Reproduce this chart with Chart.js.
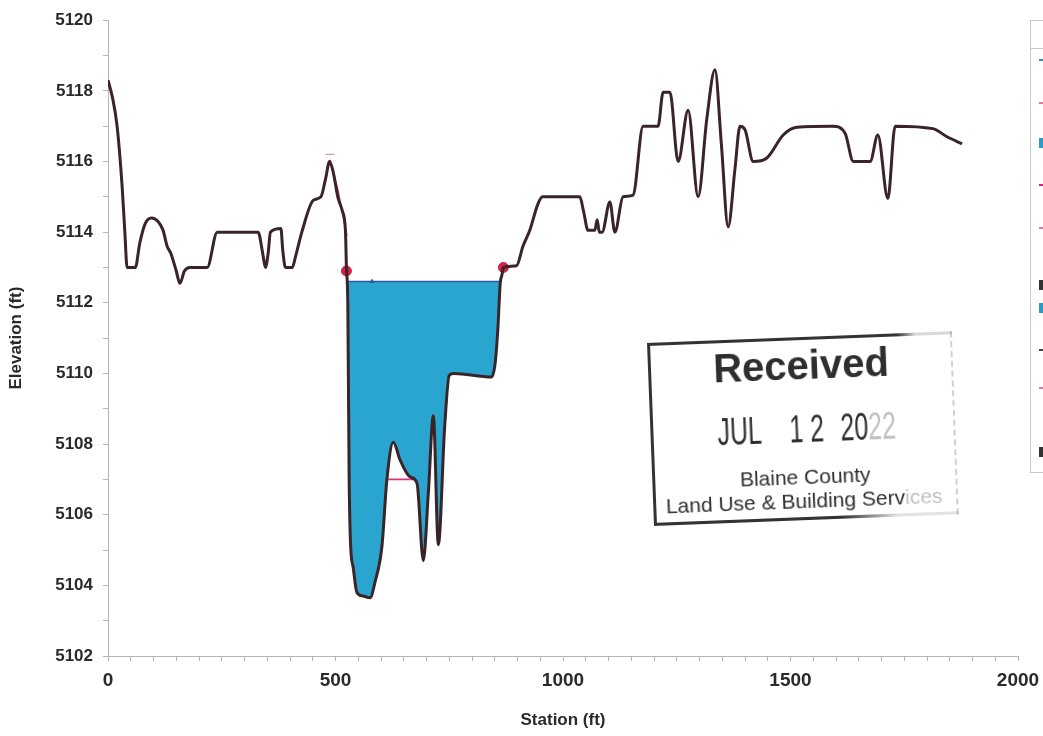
<!DOCTYPE html>
<html lang="en">
<head>
    <meta charset="UTF-8">
    <title>Cross Section</title>
    <style>
        body {
            margin: 0;
            padding: 0;
            background: #fff;
        }
        #wrap {
            position: relative;
            width: 1043px;
            height: 736px;
            overflow: hidden;
        }
        .stamp {
            position: absolute;
            left: 647px;
            top: 343px;
            width: 300px;
            height: 183px;
            border-left: 3px solid #333;
            border-right: 2px dashed rgba(60, 60, 60, 0.25);
            transform: rotate(-2.2deg);
            transform-origin: 0 0;
            color: #2e2e2e;
            font-family: "Liberation Sans", Arial, sans-serif;
        }
        .stamp::before, .stamp::after {
            content: '';
            position: absolute;
            left: -3px;
            right: -2px;
            height: 3px;
        }
        .stamp::before { top: 0; background: linear-gradient(to right, #333 82%, rgba(60,60,60,0.2) 88%); }
        .stamp::after { bottom: 0; background: linear-gradient(to right, #333 62%, rgba(60,60,60,0.15) 80%); }
        .stamp div {
            position: absolute;
            left: 0;
            right: 0;
            text-align: center;
            white-space: pre;
        }
        .received { top: 6px; font-size: 40px; font-weight: bold; }
        .county { top: 128px; font-size: 21px; }
        .dept { top: 152px; font-size: 21px; left: -4px !important; }
        .stamp span.d {
            position: absolute;
            top: 70px;
            font-size: 39px;
            transform: scaleX(0.64);
            transform-origin: 0 0;
            white-space: pre;
        }
        .faded { opacity: 0.3; }
    </style>
</head>
<body>
<div id="wrap">
    <canvas id="xsChart" width="1043" height="736"></canvas>
    <div class="stamp">
        <div class="received">Received</div>
        <span class="d" style="left: 64px">JUL</span>
        <span class="d" style="left: 136px">1 2</span>
        <span class="d" style="left: 187px">20<span class="faded">22</span></span>
        <div class="county">Blaine County</div>
        <div class="dept">Land Use &amp; Building Serv<span class="faded">ices</span></div>
    </div>
</div>

<script src="https://cdn.jsdelivr.net/npm/chart.js"></script>
<script>
    // ground profile
    const stations = [0, 10, 20, 31, 37, 42, 60, 70, 82, 96, 110, 121, 130, 138, 150, 158, 168, 180, 218, 240,
        330, 340, 346, 352, 357, 380, 384, 390, 405, 412, 426, 451, 468, 478, 487, 495, 505, 515, 522, 524,
        527, 530, 533, 539, 547, 560, 576, 587, 602, 613, 627, 642, 664, 679, 693, 704, 715, 726, 740, 750,
        760, 843, 851, 857, 862, 866, 869, 898, 912, 927, 945, 955, 1037, 1045, 1055, 1070, 1075, 1080, 1086, 1103,
        1114, 1132, 1154, 1176, 1209, 1220, 1235, 1253, 1275, 1297, 1316, 1334, 1348, 1363, 1378, 1389, 1400, 1418, 1448, 1484,
        1514, 1593, 1620, 1638, 1675, 1692, 1714, 1730, 1813, 1844, 1877];
    const elevations = [5118.3, 5117.8, 5117.0, 5115.3, 5114.0, 5113.0, 5113.0, 5113.7, 5114.25, 5114.4, 5114.3, 5114.05, 5113.6, 5113.4, 5112.9, 5112.55, 5112.9, 5113.0, 5113.0, 5114.0,
        5114.0, 5113.4, 5113.0, 5113.4, 5114.0, 5114.1, 5113.5, 5113.0, 5113.0, 5113.3, 5114.0, 5114.9, 5115.0, 5115.5, 5116.0, 5115.7, 5115.0, 5114.6, 5114.0, 5113.0,
        5112.0, 5107.0, 5105.2, 5104.5, 5103.8, 5103.7, 5103.65, 5104.1, 5105.1, 5107.0, 5108.05, 5107.55, 5107.07, 5106.9, 5104.7, 5106.6, 5108.8, 5105.15, 5108.5, 5109.95,
        5110.0, 5109.9, 5110.3, 5111.3, 5112.55, 5112.8, 5113.0, 5113.05, 5113.6, 5114.05, 5114.8, 5115.0, 5115.0, 5114.6, 5114.05, 5114.05, 5114.35, 5114.0, 5114.0, 5114.85,
        5114.0, 5115.0, 5115.05, 5117.0, 5117.0, 5117.96, 5117.96, 5116.0, 5117.45, 5115.0, 5117.2, 5118.6, 5116.5, 5114.15, 5115.8, 5117.0, 5116.9, 5116.0, 5116.1, 5116.75,
        5116.97, 5117.0, 5116.8, 5116.0, 5116.0, 5116.75, 5114.95, 5117.0, 5116.93, 5116.7, 5116.5];

    // water surface
    const wsStations = [524, 580, 866];
    const wsElev = 5112.6;

    // bank stations
    const bankStations = [524, 869];
    const bankElev = [5112.9, 5113.0];

    // ineffective flow lines (null = break)
    const ineffStations = [488, 505, 525, 560, 616, 680];
    const ineffElev = [5116.05, 5115.2, 5113.9, null, 5107.0, 5107.0];

    // levee mark
    const leveeStations = [478, 498];
    const leveeElev = [5116.2, 5116.2];

    const xTicks = [0, 500, 1000, 1500, 2000];
    const yTicks = [5102, 5104, 5106, 5108, 5110, 5112, 5114, 5116, 5118, 5120];

    const toPts = (xs, ys) => xs.map((x, i) => ({ x: x, y: Array.isArray(ys) ? ys[i] : ys }));

    const fontFam = '"Liberation Sans", Arial, sans-serif';

    // partial legend box on the right edge
    const legendEdge = {
        id: 'legendEdge',
        afterDraw(chart) {
            const c = chart.ctx;
            c.save();
            c.strokeStyle = '#c9c9c9';
            c.lineWidth = 1;
            c.strokeRect(1030.5, 20.5, 60, 452);
            c.beginPath();
            c.moveTo(1031, 48.5);
            c.lineTo(1043, 48.5);
            c.stroke();
            const items = [
                [60, 'line', '#2f8fc0'], [103, 'line', '#e07a98'], [143, 'box', '#2a9cc6'],
                [185, 'line', '#d8207a'], [228, 'line', '#e07a98'], [285, 'box', '#333'],
                [308, 'box', '#2a9cc6'], [350, 'line', '#444'], [388, 'line', '#e07a98'], [452, 'box', '#333']
            ];
            items.forEach(([y, kind, col]) => {
                c.fillStyle = col;
                if (kind === 'box') c.fillRect(1039, y - 5, 6, 10);
                else c.fillRect(1039, y - 1, 6, 2);
            });
            c.restore();
        }
    };

    const ctx = document.getElementById('xsChart').getContext('2d');
    const xsChart = new Chart(ctx, {
        type: 'line',
        data: {
            datasets: [
                {
                    label: 'Ground',
                    data: toPts(stations, elevations),
                    borderColor: '#3a2428',
                    borderWidth: 3,
                    pointRadius: 0,
                    cubicInterpolationMode: 'monotone',
                    fill: false
                },
                {
                    label: 'WS',
                    data: toPts(wsStations, wsElev),
                    borderColor: '#2c5ea8',
                    borderWidth: 1.5,
                    pointStyle: 'triangle',
                    pointRadius: [0, 3, 0],
                    pointBackgroundColor: '#2c5ea8',
                    pointBorderWidth: 0,
                    fill: { target: 0, above: '#2aa5cf', below: 'rgba(0,0,0,0)' }
                },
                {
                    label: 'Bank Sta',
                    data: toPts(bankStations, bankElev),
                    showLine: false,
                    pointRadius: 5,
                    pointBackgroundColor: '#d4204a',
                    pointBorderColor: '#d4204a'
                },
                {
                    label: 'Ineff',
                    data: toPts(ineffStations, ineffElev),
                    borderColor: '#d8307a',
                    borderWidth: 1.6,
                    pointRadius: 0,
                    spanGaps: false
                },
                {
                    label: 'Levee',
                    data: toPts(leveeStations, leveeElev),
                    borderColor: '#c8a0a8',
                    borderWidth: 1.2,
                    pointRadius: 0
                }
            ]
        },
        options: {
            responsive: false,
            animation: false,
            layout: { padding: { top: 16, right: 25, left: 0, bottom: 0 } },
            plugins: {
                legend: { display: false },
                tooltip: { enabled: false }
            },
            scales: {
                x: {
                    type: 'linear',
                    min: 0,
                    max: 2000,
                    afterFit: s => { s.height = 80; s.paddingRight = 0; s.paddingLeft = 0; },
                    border: { display: true, color: '#b5b5b5', width: 1 },
                    grid: { drawOnChartArea: false, color: '#b5b5b5', tickLength: 5 },
                    ticks: {
                        stepSize: 50,
                        autoSkip: false,
                        maxRotation: 0,
                        padding: 8,
                        color: '#2a2a2a',
                        font: { family: fontFam, size: 19, weight: 'bold' },
                        callback: v => xTicks.includes(v) ? String(v) : ''
                    },
                    title: {
                        display: true,
                        text: 'Station (ft)',
                        color: '#2a2a2a',
                        padding: { top: 0, bottom: 5 },
                        font: { family: fontFam, size: 17, weight: 'bold' }
                    }
                },
                y: {
                    min: 5102,
                    max: 5120,
                    afterFit: s => { s.width = 108; },
                    border: { display: true, color: '#b5b5b5', width: 1 },
                    grid: { drawOnChartArea: false, color: '#b5b5b5', tickLength: 5 },
                    ticks: {
                        stepSize: 1,
                        autoSkip: false,
                        padding: 10,
                        color: '#2a2a2a',
                        font: { family: fontFam, size: 17, weight: 'bold' },
                        callback: v => yTicks.includes(v) ? String(v) : ''
                    },
                    title: {
                        display: true,
                        text: 'Elevation (ft)',
                        color: '#2a2a2a',
                        padding: { top: 6, bottom: 0 },
                        font: { family: fontFam, size: 17, weight: 'bold' }
                    }
                }
            }
        },
        plugins: [legendEdge]
    });
</script>
</body>
</html>
